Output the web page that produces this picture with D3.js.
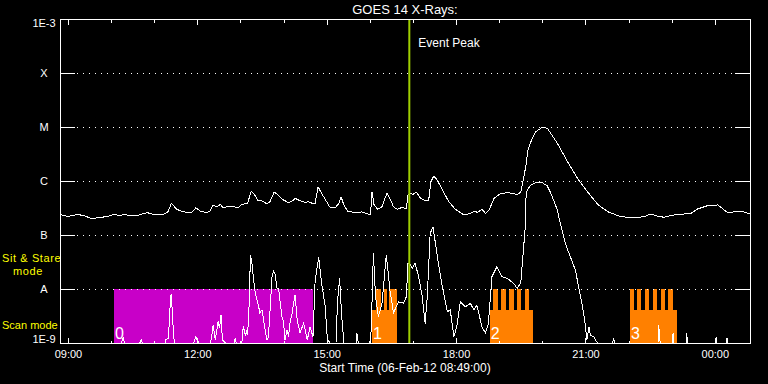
<!DOCTYPE html>
<html><head><meta charset="utf-8">
<script src="https://cdn.jsdelivr.net/npm/d3@7"></script>
<style>
html,body{margin:0;padding:0;background:#000;}
svg{display:block;}
text{font-family:"Liberation Sans",Arial,sans-serif;}
</style></head><body>
<svg id="chart" width="768" height="384"></svg>
<script>
// ---------------- data ----------------
const title = "GOES 14 X-Rays:";
const startLabel = "Start Time (06-Feb-12 08:49:00)";
const timeDomain = ["08:49", "00:49"];
const levelValues = [1e-9, 1e-8, 1e-7, 1e-6, 1e-5, 1e-4, 1e-3];
const levelLabels = ["1E-9", "A", "B", "C", "M", "X", "1E-3"];

// GOES long channel (1-8 A)
const longTimes = ["08:49","09:00","09:14","09:24","09:33","09:42","09:56","10:03","10:12","10:19","10:29","10:37","10:50","11:01","11:12","11:19","11:24","11:31","11:38","11:47","11:53","11:58","12:04","12:13","12:18","12:22","12:27","12:32","12:36","12:46","12:57","13:02","13:10","13:15","13:20","13:25","13:30","13:37","13:41","13:47","13:52","13:58","14:07","14:14","14:16","14:23","14:30","14:35","14:42","14:44","14:48","14:53","15:00","15:05","15:12","15:17","15:20","15:24","15:29","15:37","15:49","15:54","16:01","16:03","16:06","16:11","16:17","16:24","16:29","16:33","16:38","16:44","16:51","16:53","16:55","17:00","17:05","17:10","17:17","17:22","17:25","17:29","17:34","17:41","17:50","17:59","18:11","18:20","18:26","18:30","18:36","18:41","18:46","18:53","19:02","19:13","19:25","19:30","19:33","19:37","19:40","19:44","19:51","20:00","20:07","20:21","20:35","20:49","21:03","21:17","21:31","21:49","22:08","22:22","22:31","22:40","22:49","23:03","23:27","23:36","23:50","00:04","00:18","00:36","00:49"];
const longFlux = [2.4e-7,2.2e-7,2.4e-7,2.25e-7,2.0e-7,2.1e-7,2.2e-7,2.4e-7,2.3e-7,2.4e-7,2.25e-7,2.3e-7,2.6e-7,2.37e-7,2.4e-7,2.67e-7,3.86e-7,3.03e-7,2.74e-7,2.6e-7,2.67e-7,3.2e-7,2.78e-7,2.6e-7,2.8e-7,3.6e-7,3.3e-7,3.7e-7,3.2e-7,3.44e-7,3.2e-7,3.7e-7,3.86e-7,6.5e-7,5.5e-7,4.26e-7,4.3e-7,3.75e-7,4.13e-7,6.2e-7,5.6e-7,4.6e-7,3.96e-7,4.45e-7,4.78e-7,4.3e-7,4.0e-7,4.13e-7,3.75e-7,3.86e-7,7.8e-7,5.9e-7,4.13e-7,3.2e-7,3.2e-7,3.86e-7,5.1e-7,3.6e-7,2.78e-7,2.63e-7,2.67e-7,2.52e-7,2.35e-7,6.3e-7,3.6e-7,3.0e-7,3.33e-7,6.06e-7,4.45e-7,3.33e-7,3.0e-7,3.2e-7,3.12e-7,5.5e-7,5.9e-7,5.66e-7,6.2e-7,4.9e-7,4.3e-7,4.45e-7,9.7e-7,1.23e-6,1.04e-6,6.8e-7,4.13e-7,3.0e-7,2.35e-7,2.52e-7,2.78e-7,2.6e-7,3.03e-7,2.52e-7,2.9e-7,4.78e-7,5.9e-7,6.06e-7,5.66e-7,6.2e-7,9.7e-7,1.84e-6,3.75e-6,5.3e-6,8.2e-6,9.9e-6,9.5e-6,5.0e-6,2.3e-6,1.12e-6,6.3e-7,3.7e-7,2.7e-7,2.18e-7,2.1e-7,2.18e-7,2.45e-7,2.25e-7,2.13e-7,2.35e-7,2.52e-7,3.03e-7,3.5e-7,3.6e-7,2.6e-7,2.78e-7,2.45e-7];

// GOES short channel (0.5-4 A), readings at the 1E-9 floor are shown on the axis
const shortTimes = ["08:49","10:14","10:17","10:19","10:40","10:42","10:44","11:15","11:16","11:20","11:21","11:23","11:24","11:26","11:28","11:55","11:58","12:02","12:18","12:20","12:22","12:23","12:25","12:28","12:29","12:31","12:33","12:34","12:35","12:39","12:51","12:53","12:54","13:02","13:03","13:04","13:07","13:09","13:10","13:12","13:14","13:16","13:18","13:20","13:23","13:25","13:27","13:30","13:32","13:34","13:37","13:39","13:41","13:44","13:46","13:48","13:51","13:53","13:55","13:58","14:00","14:02","14:05","14:07","14:09","14:12","14:14","14:16","14:19","14:23","14:28","14:33","14:37","14:41","14:44","14:49","14:53","14:58","15:01","15:05","15:13","15:15","15:18","15:21","15:24","15:41","15:42","15:44","16:00","16:02","16:05","16:08","16:12","16:17","16:23","16:28","16:33","16:40","16:47","16:51","16:53","16:55","16:59","17:03","17:08","17:13","17:17","17:20","17:24","17:28","17:34","17:41","17:48","17:52","17:57","18:01","18:06","18:13","18:20","18:25","18:29","18:36","18:41","18:45","18:50","18:57","19:04","19:11","19:20","19:25","19:30","19:33","19:36","19:37","19:39","19:44","19:51","20:00","20:07","20:12","20:21","20:25","20:32","20:39","20:46","20:51","20:56","20:59","21:02","21:05","21:07","21:12","21:14","21:17","21:38","21:39","21:41","22:41","22:42","22:44","23:01","23:02","23:03","23:20","23:21","23:22","00:01","00:02","00:03","00:16","00:17","00:18","00:49"];
const shortFlux = [1e-9,1e-9,1.24e-9,1e-9,1e-9,1.14e-9,1e-9,1e-9,1.14e-9,1.24e-9,2.5e-9,7.4e-9,7.76e-9,2.35e-9,1e-9,1e-9,1.29e-9,1e-9,1e-9,1.3e-9,2.15e-9,1.74e-9,1.14e-9,2.0e-9,2.5e-9,1.9e-9,3.3e-9,1.85e-9,1.14e-9,1e-9,1e-9,1.24e-9,1e-9,1e-9,1.4e-9,2.06e-9,1.35e-9,1.74e-9,1.4e-9,4.7e-9,4.27e-8,3.0e-8,1.69e-8,9.6e-9,6.25e-9,5.06e-9,3.6e-9,4.08e-9,2.87e-9,1.87e-9,1.14e-9,1.29e-9,3.6e-9,1.69e-8,2.18e-8,1.95e-8,1.03e-8,1.03e-8,6.25e-9,2.9e-9,2.5e-9,1.14e-9,1.74e-9,1.3e-9,2.35e-9,3.6e-9,5.5e-9,7.76e-9,2.67e-9,1.53e-9,2.35e-9,1.14e-9,1.98e-9,1.3e-9,1.47e-8,3.86e-8,1.28e-8,4.7e-9,1.14e-9,1e-9,1e-9,5.5e-9,1.58e-8,3.07e-9,1e-9,1e-9,1.53e-9,1e-9,1e-9,1.74e-9,4.6e-8,7.2e-9,3.07e-9,5.5e-9,4.27e-8,9.6e-9,3.6e-9,5.8e-9,5.5e-9,7.2e-9,3.0e-8,3.0e-8,2.4e-8,3.0e-8,1.69e-8,7.2e-9,2.3e-9,7.2e-9,1.07e-7,1.42e-7,3.96e-8,1.1e-8,3.8e-9,4.08e-9,1.3e-9,2.0e-9,5.8e-9,4.7e-9,5.4e-9,4.08e-9,5.06e-9,2.0e-9,1.53e-9,2.3e-9,1.69e-8,2.6e-8,1.69e-8,1.58e-8,1.28e-8,1.03e-8,1.28e-8,3.96e-8,1.24e-7,4.45e-7,6.8e-7,8.4e-7,9.3e-7,9.3e-7,8.1e-7,5.9e-7,2.9e-7,1.65e-7,7.0e-8,3.96e-8,2.25e-8,1.03e-8,4.7e-9,2.67e-9,1.14e-9,2.0e-9,1.4e-9,1.3e-9,1.14e-9,1e-9,1e-9,1.24e-9,1e-9,1e-9,2.15e-9,1e-9,1e-9,1.53e-9,1e-9,1e-9,1.53e-9,1e-9,1e-9,1.29e-9,1e-9,1e-9,1.24e-9,1e-9,1e-9];

// Observing modes
const stareBlocks = [{label: "0", start: "10:04", end: "14:41"}];
const scanBlocks = [
  {label: "1", start: "16:03", end: "16:38"},
  {label: "2", start: "18:47", end: "19:47"},
  {label: "3", start: "22:02", end: "23:08"}
];
const scanTines = [
  ["16:09","16:16"],["16:20","16:24"],["16:27","16:38"],
  ["18:52","18:58"],["19:03","19:09"],["19:14","19:20"],["19:25","19:31"],["19:36","19:42"],
  ["22:02","22:08"],["22:12","22:18"],["22:23","22:29"],["22:34","22:40"],["22:45","22:51"],["22:55","23:02"]
];
const eventPeak = {time: "16:55", label: "Event Peak"};
const modeLabels = {stare: ["Sit & Stare", "mode"], scan: "Scan mode"};

// ---------------- drawing ----------------
const parseT = s => {
  const [h, m] = s.split(":").map(Number);
  let mins = h * 60 + m;
  if (mins < 8 * 60 + 49) mins += 1440;
  return new Date(Date.UTC(2012, 1, 6, 0, mins));
};

const L = 60, R = 750, T = 19, B = 343;
const svg = d3.select("#chart");
svg.append("rect").attr("width", 768).attr("height", 384).attr("fill", "#000");

const x = d3.scaleUtc().domain(timeDomain.map(parseT)).range([L, R]);
const y = d3.scaleLog().domain([1e-9, 1e-3]).range([B, T]).clamp(true);
const px = v => Math.round(v);

// mode blocks
const stareTop = 1e-8, scanTop = 4.1e-9;
svg.append("g").selectAll("rect").data(stareBlocks).join("rect")
  .attr("x", d => px(x(parseT(d.start)))).attr("y", px(y(stareTop)))
  .attr("width", d => px(x(parseT(d.end))) - px(x(parseT(d.start))))
  .attr("height", px(y(1e-9)) - px(y(stareTop)) + 1)
  .attr("fill", "#c800c8").attr("shape-rendering", "crispEdges");
svg.append("g").selectAll("rect").data(scanBlocks).join("rect")
  .attr("x", d => px(x(parseT(d.start)))).attr("y", px(y(scanTop)))
  .attr("width", d => px(x(parseT(d.end))) - px(x(parseT(d.start))))
  .attr("height", px(y(1e-9)) - px(y(scanTop)) + 1)
  .attr("fill", "#ff8000").attr("shape-rendering", "crispEdges");
svg.append("g").selectAll("rect").data(scanTines).join("rect")
  .attr("x", d => px(x(parseT(d[0])))).attr("y", px(y(stareTop)))
  .attr("width", d => px(x(parseT(d[1]))) - px(x(parseT(d[0]))))
  .attr("height", px(y(scanTop)) - px(y(stareTop)) + 1)
  .attr("fill", "#ff8000").attr("shape-rendering", "crispEdges");

// grid + y ticks at inner levels
const inner = levelValues.slice(1, -1);
const gGrid = svg.append("g").attr("stroke", "#fff").attr("shape-rendering", "crispEdges");
inner.forEach(v => {
  const yy = px(y(v)) + 0.5;
  gGrid.append("line").attr("x1", L + 17).attr("x2", R - 14).attr("y1", yy).attr("y2", yy)
    .attr("stroke-dasharray", "1,5");
  gGrid.append("line").attr("x1", L).attr("x2", L + 15).attr("y1", yy).attr("y2", yy);
  gGrid.append("line").attr("x1", R - 15).attr("x2", R).attr("y1", yy).attr("y2", yy);
});

// curves
const line = d3.line().x(d => x(d.t)).y(d => y(Math.max(d.v, 1e-9)));
const longData = longTimes.map((t, i) => ({t: parseT(t), v: longFlux[i]}));
const shortData = shortTimes.map((t, i) => ({t: parseT(t), v: shortFlux[i]}));
[longData, shortData].forEach(data => {
  svg.append("path").datum(data).attr("d", line)
    .attr("fill", "none").attr("stroke", "#fff").attr("stroke-width", 1)
    .attr("shape-rendering", "crispEdges");
});

// block labels
svg.append("g").selectAll("text").data(stareBlocks.concat(scanBlocks)).join("text")
  .attr("x", d => x(parseT(d.start)) + 1).attr("y", 339)
  .attr("fill", "#fff").attr("font-size", 16).text(d => d.label);

// event peak line
const xp = x(parseT(eventPeak.time));
svg.append("line").attr("x1", xp).attr("x2", xp).attr("y1", T).attr("y2", B)
  .attr("stroke", "#9fcf00").attr("stroke-width", 2);
svg.append("text").attr("x", xp + 9).attr("y", 47).attr("fill", "#fff")
  .attr("font-size", 12).text(eventPeak.label);

// frame
svg.append("rect").attr("x", L + 0.5).attr("y", T + 0.5).attr("width", R - L).attr("height", B - T)
  .attr("fill", "none").attr("stroke", "#fff").attr("shape-rendering", "crispEdges");

// x ticks (top & bottom, pointing inward)
const hours = d3.utcHour.every(1).range(parseT("08:49"), parseT("00:49"));
const isMajor = d => d.getUTCHours() % 3 === 0;
const gx = svg.append("g").attr("stroke", "#fff").attr("shape-rendering", "crispEdges");
hours.forEach(d => {
  const xx = px(x(d)) + 0.5, len = isMajor(d) ? 6 : 3.5;
  gx.append("line").attr("x1", xx).attr("x2", xx).attr("y1", T).attr("y2", T + len);
  gx.append("line").attr("x1", xx).attr("x2", xx).attr("y1", B + 1).attr("y2", B + 1 - len);
});

// x tick labels via d3 axis
const xAxis = d3.axisBottom(x).tickValues(hours.filter(isMajor))
  .tickFormat(d3.utcFormat("%H:%M")).tickSize(0).tickPadding(0);
const gxa = svg.append("g").attr("transform", `translate(0,${B})`).call(xAxis);
gxa.select(".domain").remove();
gxa.selectAll("text").attr("fill", "#fff").attr("font-size", 11)
  .attr("font-family", "Liberation Sans, Arial, sans-serif").attr("dy", null).attr("y", 15);

// y labels
svg.append("g").selectAll("text").data(levelValues).join("text")
  .attr("x", 44).attr("text-anchor", "middle")
  .attr("y", (d, i) => i === 0 ? B : i === levelValues.length - 1 ? T + 8 : y(d) + 4)
  .attr("fill", "#fff").attr("font-size", 11).text((d, i) => levelLabels[i]);

// mode labels
svg.append("text").attr("x", 2).attr("y", 262).attr("fill", "#ffff00").attr("font-size", 11)
  .attr("letter-spacing", 0.6).text(modeLabels.stare[0]);
svg.append("text").attr("x", 13).attr("y", 275).attr("fill", "#ffff00").attr("font-size", 11)
  .attr("letter-spacing", 0.6).text(modeLabels.stare[1]);
svg.append("text").attr("x", 2).attr("y", 329).attr("fill", "#ffff00").attr("font-size", 11)
  .text(modeLabels.scan);

// titles
svg.append("text").attr("x", (L + R) / 2).attr("y", 14).attr("text-anchor", "middle")
  .attr("fill", "#fff").attr("font-size", 13).text(title);
svg.append("text").attr("x", (L + R) / 2).attr("y", 372).attr("text-anchor", "middle")
  .attr("fill", "#fff").attr("font-size", 12).text(startLabel);
</script>
</body></html>
